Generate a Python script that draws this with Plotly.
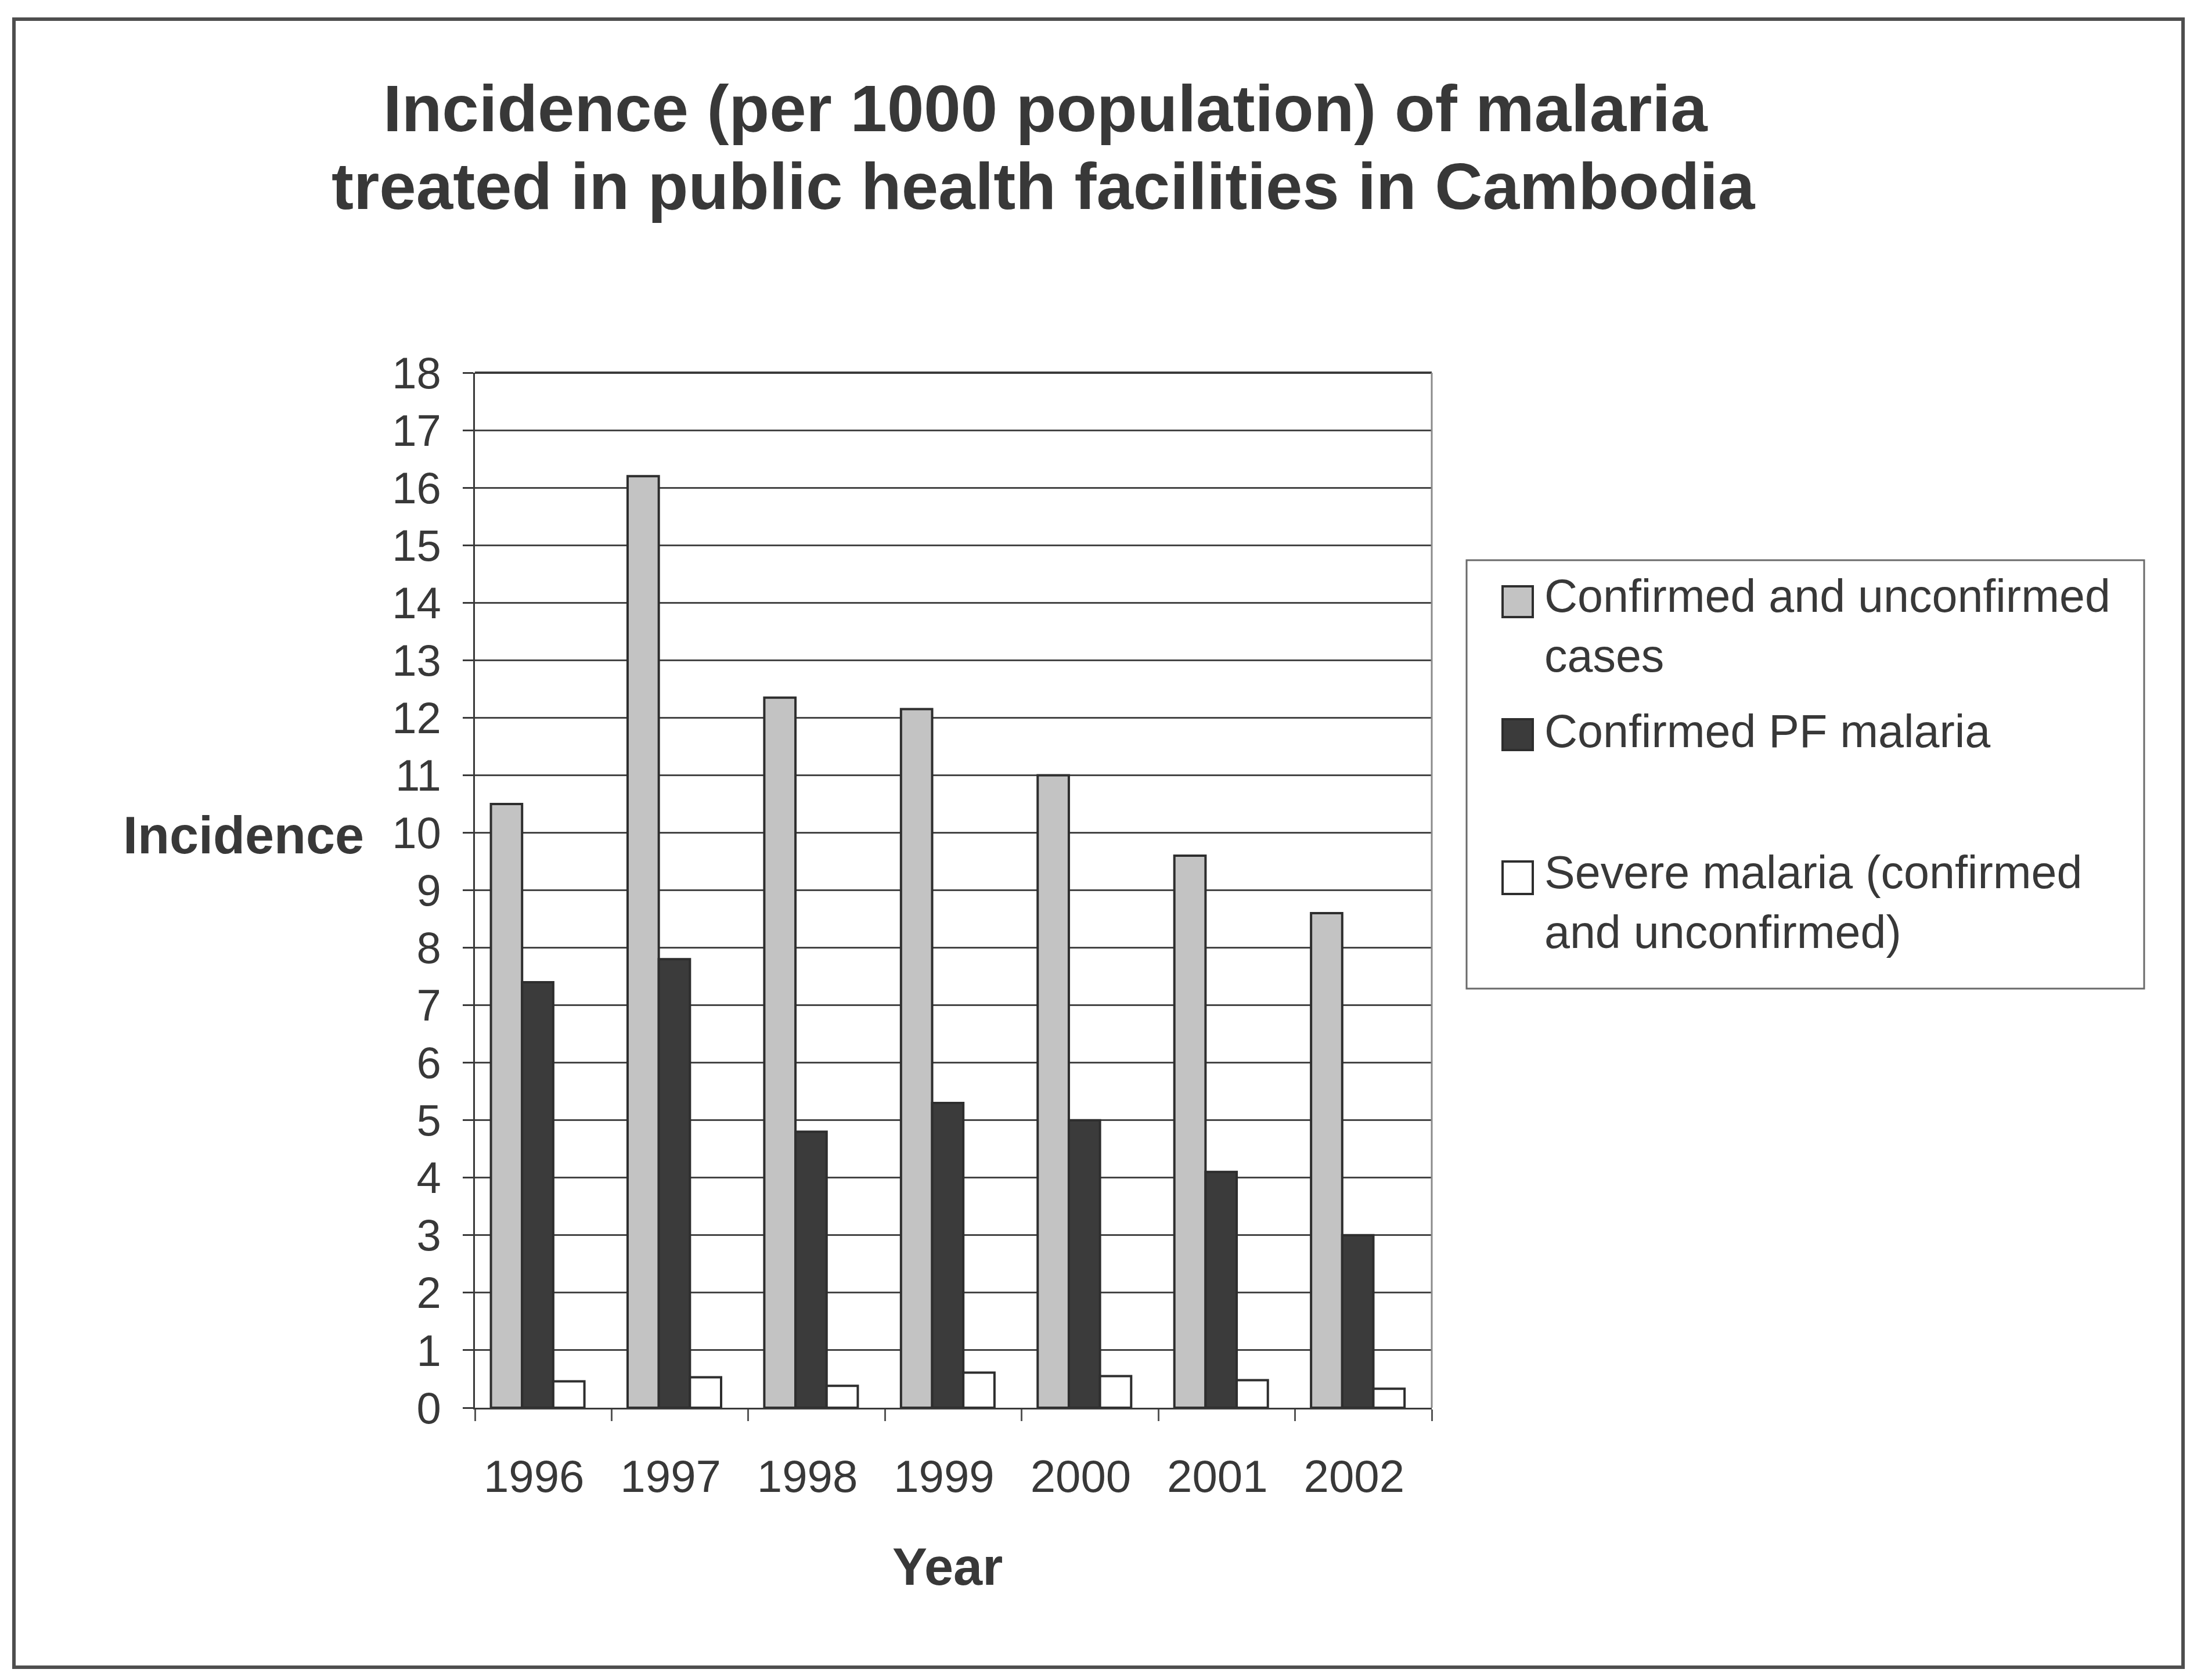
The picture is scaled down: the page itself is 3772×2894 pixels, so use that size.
import plotly.graph_objects as go

# ---- data ----
years = ["1996", "1997", "1998", "1999", "2000", "2001", "2002"]
confirmed_unconfirmed = [10.5, 16.2, 12.35, 12.15, 11.0, 9.6, 8.6]
confirmed_pf = [7.4, 7.8, 4.8, 5.3, 5.0, 4.1, 3.0]
severe = [0.46, 0.53, 0.38, 0.61, 0.55, 0.48, 0.33]
series_names = [
    "Confirmed and unconfirmed<br>cases",
    "Confirmed PF malaria",
    "Severe malaria (confirmed<br>and unconfirmed)",
]
y_ticks = list(range(0, 19))

# ---- layout geometry (pixels) ----
W, H = 3772, 2894
L, R, T, B = 818, 2466, 642, 2425
FONT = "Arial, 'Liberation Sans', sans-serif"
TXT = "#383838"
OUTLINE = "#2e2e2e"
fills = ["#c3c3c3", "#3b3b3b", "#ffffff"]
bar_width = 0.228
bar_offsets = [-0.383, -0.155, 0.073]


def px_x(p):
    return (p - L) / (R - L)


def px_y(p):
    return (B - p) / (B - T)


fig = go.Figure()
for name, vals, col, off in zip(series_names, [confirmed_unconfirmed, confirmed_pf, severe], fills, bar_offsets):
    fig.add_trace(go.Bar(
        x=years, y=vals, name=name.replace("<br>", " "),
        width=bar_width, offset=off,
        marker=dict(color=col, line=dict(color=OUTLINE, width=4)),
        showlegend=False,
    ))

annotations = [
    dict(text="Incidence (per 1000 population) of malaria", x=px_x(1801), y=px_y(187),
         font=dict(size=114, weight="bold")),
    dict(text="treated in public health facilities in Cambodia", x=px_x(1797), y=px_y(320),
         font=dict(size=114, weight="bold")),
    dict(text="Incidence", x=px_x(419), y=px_y(1439), font=dict(size=90, weight="bold")),
    dict(text="Year", x=px_x(1632), y=px_y(2699), font=dict(size=90, weight="bold")),
]

# manual legend (large symbols)
legend_line_centers = [1030, 1263, 1506]
sym_boxes = [(1010, 1063), (1239, 1292), (1484, 1540)]
shapes = []
shapes.append(dict(type="rect", xref="paper", yref="paper",
                   x0=px_x(2526), x1=px_x(3693), y0=px_y(965), y1=px_y(1703),
                   line=dict(color="#6a6a6a", width=3), fillcolor="rgba(0,0,0,0)"))
for name, (s0, s1), col, yc in zip(series_names, sym_boxes, fills, legend_line_centers):
    shapes.append(dict(type="rect", xref="paper", yref="paper",
                       x0=px_x(2588), x1=px_x(2640), y0=px_y(s1), y1=px_y(s0),
                       line=dict(color=OUTLINE, width=4), fillcolor=col))
    annotations.append(dict(text=name, x=px_x(2658), y=px_y(yc - 50), xanchor="left",
                            yanchor="top", align="left", font=dict(size=79)))

# outer frame
shapes.append(dict(type="rect", xref="paper", yref="paper",
                   x0=px_x(24), x1=px_x(3760), y0=px_y(2872), y1=px_y(33),
                   line=dict(color="#4e4e4e", width=6), fillcolor="rgba(0,0,0,0)"))

for a in annotations:
    a.setdefault("xref", "paper")
    a.setdefault("yref", "paper")
    a.setdefault("showarrow", False)
    a.setdefault("xanchor", "center")
    a.setdefault("yanchor", "middle")
    a["font"].setdefault("family", FONT)
    a["font"].setdefault("color", TXT)

fig.update_layout(
    width=W, height=H,
    margin=dict(l=L, r=W - R, t=T, b=H - B, pad=0),
    paper_bgcolor="white", plot_bgcolor="white",
    barmode="overlay",
    font=dict(family=FONT, color=TXT),
    annotations=annotations, shapes=shapes,
    showlegend=False,
)
fig.update_yaxes(
    range=[0, 18], tickvals=y_ticks, ticktext=[str(v) for v in y_ticks],
    showgrid=True, gridcolor="#454545", gridwidth=3,
    zeroline=False, showline=True, linecolor="#3a3a3a", linewidth=3,
    mirror=False, ticks="outside", ticklen=18, tickwidth=3, tickcolor="#3a3a3a",
    tickfont=dict(size=76, family=FONT, color=TXT), ticklabelstandoff=22,
)
fig.update_xaxes(
    range=[-0.5, 6.5],
    showgrid=False, showline=True, linecolor="#3a3a3a", linewidth=3,
    ticks="outside", tickson="boundaries", ticklen=20, tickwidth=3, tickcolor="#555555",
    tickfont=dict(size=78, family=FONT, color=TXT), ticklabelstandoff=48,
    ticklabelshift=-16,
)
# plot frame: top dark, right lighter
fig.add_shape(type="line", xref="paper", yref="paper", x0=0, x1=1, y0=1, y1=1,
              line=dict(color="#3a3a3a", width=4))
fig.add_shape(type="line", xref="paper", yref="paper", x0=1, x1=1, y0=0, y1=1,
              line=dict(color="#8a8a8a", width=3))

fig.write_html("out.html", config={"displayModeBar": False},
               post_script="document.body.style.margin='0';document.body.style.padding='0';")
